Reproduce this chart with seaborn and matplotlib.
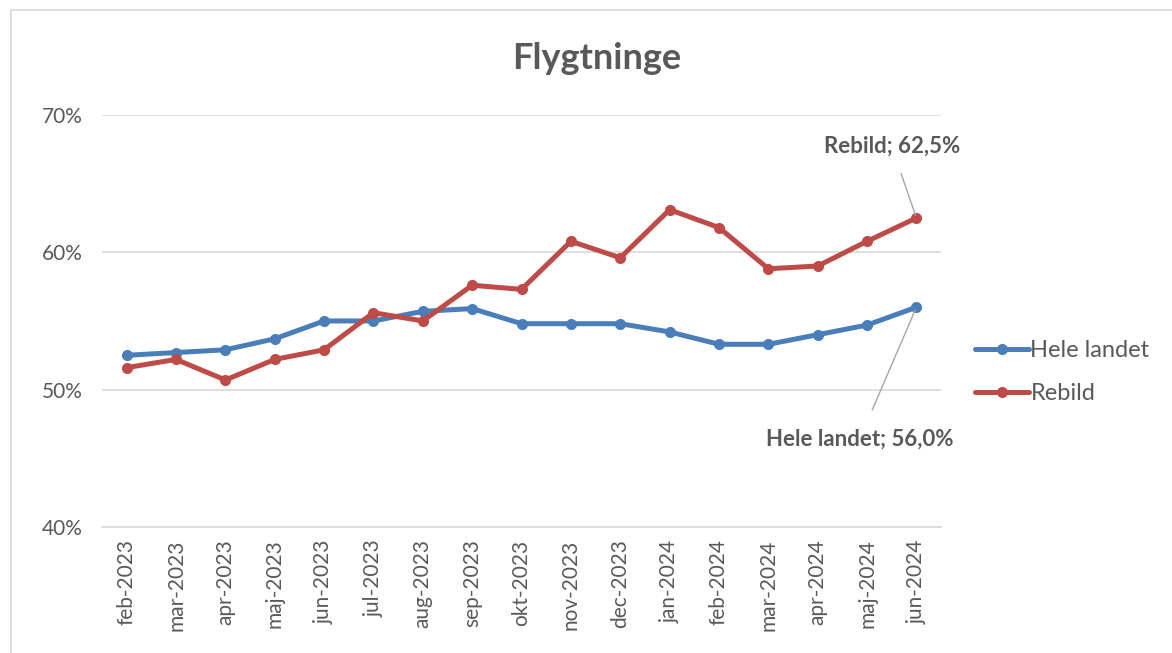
import pandas as pd
import matplotlib.pyplot as plt
import seaborn as sns
from matplotlib.patches import Rectangle

# Data
months = ["feb-2023", "mar-2023", "apr-2023", "maj-2023", "jun-2023", "jul-2023",
          "aug-2023", "sep-2023", "okt-2023", "nov-2023", "dec-2023", "jan-2024",
          "feb-2024", "mar-2024", "apr-2024", "maj-2024", "jun-2024"]
hele_landet = [52.5, 52.7, 52.9, 53.7, 55.0, 55.0, 55.7, 55.9, 54.8, 54.8, 54.8,
               54.2, 53.3, 53.3, 54.0, 54.7, 56.0]
rebild = [51.6, 52.2, 50.7, 52.2, 52.9, 55.6, 55.0, 57.6, 57.3, 60.8, 59.6,
          63.1, 61.8, 58.8, 59.0, 60.8, 62.5]
series_names = ["Hele landet", "Rebild"]
y_ticks = [40, 50, 60, 70]

df = pd.DataFrame({
    "pos": list(range(len(months))) * 2,
    "value": hele_landet + rebild,
    "serie": [series_names[0]] * len(months) + [series_names[1]] * len(months),
})

sns.set_style("white")
plt.rcParams["font.family"] = ["Lato", "DejaVu Sans"]
text_col = "#595959"
grid_col = "#D9D9D9"

fig = plt.figure(figsize=(11.72, 6.53), dpi=100)
ax = fig.add_axes([0.087, 0.193, 0.716, 0.631])

palette = {"Hele landet": "#4A7EBB", "Rebild": "#BE4B48"}
sns.lineplot(data=df, x="pos", y="value", hue="serie", palette=palette,
             marker="o", markersize=8, markeredgewidth=0, linewidth=3.6, ax=ax)

ax.set_xlim(-0.5, len(months) - 0.5)
ax.set_ylim(40, 70)
ax.set_yticks(y_ticks)
ax.set_yticklabels([f"{t}%" for t in y_ticks], fontsize=15, color=text_col)
ax.set_xticks(range(len(months)))
ax.set_xticklabels(months, rotation=90, fontsize=15, color=text_col)
ax.set_xticks([i - 0.5 for i in range(len(months) + 1)], minor=True)
ax.tick_params(axis="x", which="major", length=0, pad=9)
ax.tick_params(axis="x", which="minor", length=7, color=grid_col, width=1)
ax.tick_params(axis="y", length=0, pad=14)
ax.set_xlabel("")
ax.set_ylabel("")
ax.yaxis.grid(True, color=grid_col, linewidth=1.2)
ax.set_axisbelow(True)
for side in ["top", "right", "left"]:
    ax.spines[side].set_visible(False)
ax.spines["bottom"].set_color(grid_col)
ax.spines["bottom"].set_linewidth(1.2)

fig.text(0.509, 0.91, "Flygtninge", ha="center", va="center",
         fontsize=26, fontweight="bold", color=text_col)

# Data labels with leader lines
last = len(months) - 1
ax.annotate("Rebild; 62,5%", xy=(last, rebild[-1]), xytext=(last - 0.5, 67.7),
            ha="center", va="center", fontsize=16, fontweight="bold", color=text_col,
            arrowprops=dict(arrowstyle="-", color="#A6A6A6", lw=1, shrinkA=10, shrinkB=2))
ax.annotate("Hele landet; 56,0%", xy=(last, hele_landet[-1]), xytext=(last - 1.15, 46.4),
            ha="center", va="center", fontsize=16, fontweight="bold", color=text_col,
            arrowprops=dict(arrowstyle="-", color="#A6A6A6", lw=1, shrinkA=12, shrinkB=2))

leg = ax.legend(loc="center left", bbox_to_anchor=(1.015, 0.376), frameon=False,
                fontsize=17, handlelength=2.3, handletextpad=0.05, labelspacing=0.95)
for t in leg.get_texts():
    t.set_color(text_col)

fig.patches.append(Rectangle((0.009, -0.01), 1.0, 0.995, transform=fig.transFigure,
                             fill=False, edgecolor="#D9D9D9", linewidth=1.2))

fig.savefig("out.png", dpi=100)
